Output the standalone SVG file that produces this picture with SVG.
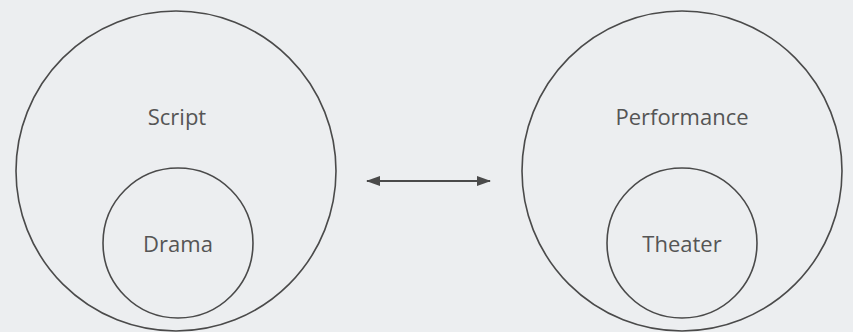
<svg xmlns="http://www.w3.org/2000/svg" width="853" height="332" viewBox="0 0 853 332">
<style>
.ring{fill:none;stroke:#4a4a4a;stroke-width:1.6}
.lbl{font-family:"Open Sans","Liberation Sans",sans-serif;font-size:22px;fill:#555;text-anchor:middle}
.conn{stroke:#4a4a4a;stroke-width:2;fill:none}
</style>
<defs>
<marker id="ah" viewBox="0 0 14 10" refX="13" refY="5" markerWidth="14" markerHeight="10" markerUnits="userSpaceOnUse" orient="auto-start-reverse">
<path d="M0,0 L14,5 L0,10 Z" fill="#4a4a4a"/>
</marker>
</defs>
<rect width="853" height="332" fill="#eceef0"/>
<g id="script">
<circle class="ring" cx="176" cy="171" r="160"/>
<text class="lbl" x="177" y="125">Script</text>
</g>
<g id="drama">
<circle class="ring" cx="178" cy="243" r="75"/>
<text class="lbl" x="178" y="252">Drama</text>
</g>
<g id="performance">
<circle class="ring" cx="682" cy="171" r="160"/>
<text class="lbl" x="682" y="125">Performance</text>
</g>
<g id="theater">
<circle class="ring" cx="682" cy="243" r="75"/>
<text class="lbl" x="682" y="252">Theater</text>
</g>
<g id="connectors">
<line class="conn" x1="367" y1="181" x2="490" y2="181" marker-start="url(#ah)" marker-end="url(#ah)"/>
</g>
</svg>
